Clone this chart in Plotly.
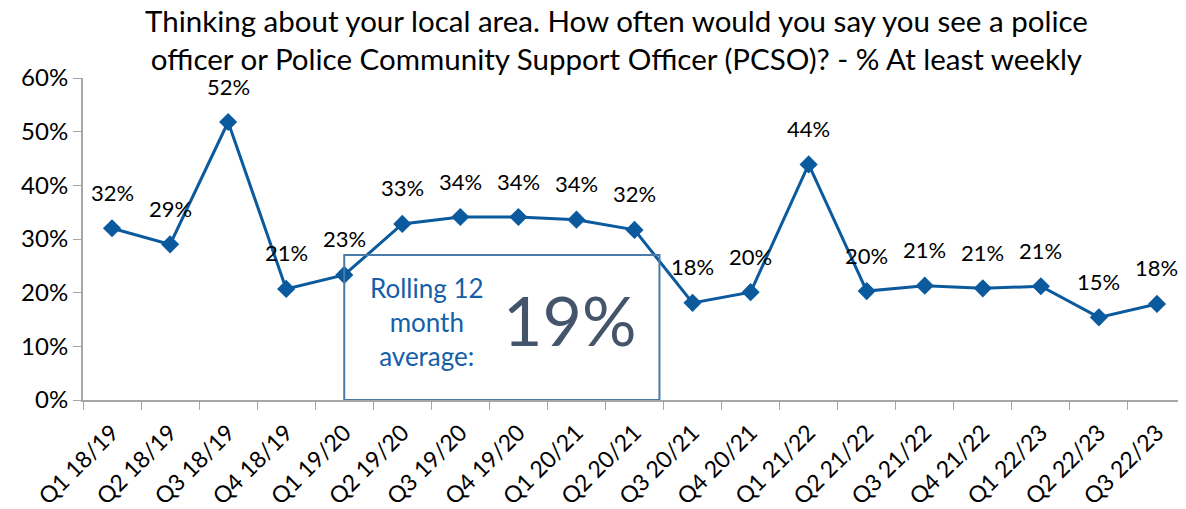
import plotly.graph_objects as go

categories = ["Q1 18/19", "Q2 18/19", "Q3 18/19", "Q4 18/19", "Q1 19/20", "Q2 19/20",
              "Q3 19/20", "Q4 19/20", "Q1 20/21", "Q2 20/21", "Q3 20/21", "Q4 20/21",
              "Q1 21/22", "Q2 21/22", "Q3 21/22", "Q4 21/22", "Q1 22/23", "Q2 22/23",
              "Q3 22/23"]
values = [32.0, 29.0, 51.8, 20.7, 23.3, 32.8, 34.1, 34.1, 33.6, 31.7, 18.1, 20.1,
          43.9, 20.3, 21.3, 20.8, 21.2, 15.4, 17.9]
labels = ["32%", "29%", "52%", "21%", "23%", "33%", "34%", "34%", "34%", "32%", "18%",
          "20%", "44%", "20%", "21%", "21%", "21%", "15%", "18%"]
y_ticks = [0, 10, 20, 30, 40, 50, 60]
y_tick_labels = ["0%", "10%", "20%", "30%", "40%", "50%", "60%"]
rolling_avg = "19%"
title_text = ("Thinking about your local area. How often would you say you see a police<br>"
              "officer or Police Community Support Officer (PCSO)? - % At least weekly")

FONT = "Lato"
LINE = "#0B5A9E"

fig = go.Figure()
fig.add_trace(go.Scatter(
    x=categories, y=values, mode="lines+markers",
    line=dict(color=LINE, width=3),
    marker=dict(symbol="diamond", size=14, color=LINE),
    cliponaxis=False, hoverinfo="skip",
))

for c, v, t in zip(categories, values, labels):
    fig.add_annotation(x=c, y=v, text=t, showarrow=False, yshift=36,
                       yanchor="middle", xanchor="center",
                       font=dict(family=FONT, size=22, color="#000000"))

fig.add_shape(type="rect", xref="x", yref="y", x0=4, x1=9.43, y0=0, y1=27,
              line=dict(color="#4A7AA8", width=2), fillcolor="rgba(255,255,255,0)")
fig.add_annotation(xref="x", yref="y", x=5.42, y=14.5,
                   text="Rolling 12<br>month<br>average:", showarrow=False,
                   font=dict(family=FONT, size=26, color="#1460A8"), align="center")
fig.add_annotation(xref="x", yref="y", x=7.88, y=15.0, text=rolling_avg, showarrow=False,
                   font=dict(family=FONT, size=68, color="#44546A"))

fig.add_annotation(xref="paper", yref="paper", x=0.484, y=1.12, text=title_text,
                   showarrow=False, xanchor="center", yanchor="middle", align="center",
                   font=dict(family=FONT, size=29.5, color="#000000"))

fig.update_layout(
    width=1178, height=501,
    margin=dict(l=75, r=0, t=70, b=109),
    paper_bgcolor="white", plot_bgcolor="white",
    showlegend=False,
    font=dict(family=FONT),
)
fig.update_xaxes(
    type="category", tickson="boundaries", ticks="outside", ticklen=8,
    tickcolor="#A6A6A6", showline=True, linecolor="#A6A6A6", linewidth=2,
    tickangle=-45, tickfont=dict(family=FONT, size=23, color="#000000"),
    ticklabelstandoff=8,
    showgrid=False, range=[-0.5, 18.5], automargin=False,
)
fig.update_yaxes(
    range=[0, 60], tickvals=y_ticks, ticktext=y_tick_labels, ticks="outside",
    ticklen=8, tickcolor="#A6A6A6", showline=True, linecolor="#A6A6A6", linewidth=2,
    tickfont=dict(family=FONT, size=24, color="#000000"), showgrid=False, zeroline=False,
    automargin=False,
)

fig.write_html("out.html")
